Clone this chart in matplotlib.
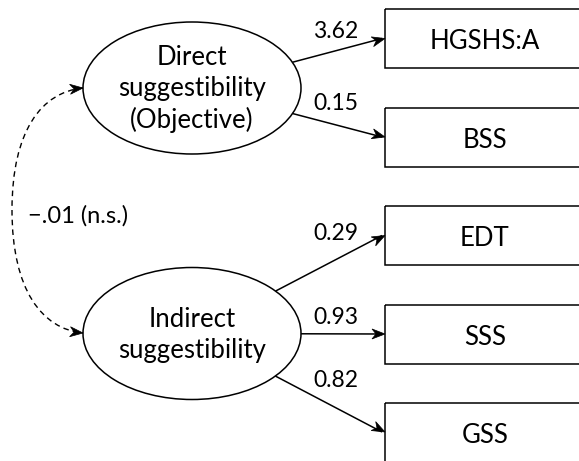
import matplotlib
matplotlib.use("Agg")
import matplotlib.pyplot as plt
import numpy as np
from matplotlib.patches import Ellipse, Rectangle, Polygon, PathPatch
from matplotlib.path import Path

latent_names = ["Direct\nsuggestibility\n(Objective)", "Indirect\nsuggestibility"]
indicators = ["HGSHS:A", "BSS", "EDT", "SSS", "GSS"]
loadings = ["3.62", "0.15", "0.29", "0.93", "0.82"]
loading_factor = [0, 0, 1, 1, 1]
covariance_label = "\u2212.01 (n.s.)"

plt.rcParams["font.family"] = ["Lato", "DejaVu Sans"]

fig = plt.figure(figsize=(5.79, 4.61), dpi=100)
ax = fig.add_axes([0, 0, 1, 1])
ax.set_xlim(0, 579)
ax.set_ylim(461, 0)
ax.axis("off")

# layout (pixel coords)
ell_cx, ell_rx, ell_ry = 192, 109, 66
ell_cy = [88, 333.5]
box_x, box_w, box_h = 385, 220, 59
box_cy = [38.5, 137, 235.5, 334, 432]
label_x = 336
label_y = [32, 103, 233, 317, 380]


def stealth(tip, frm, L=13, w=5, notch=4):
    tip = np.array(tip, float)
    u = tip - np.array(frm, float)
    u /= np.linalg.norm(u)
    n = np.array([-u[1], u[0]])
    pts = [tip, tip - L * u + w * n, tip - (L - notch) * u, tip - L * u - w * n]
    ax.add_patch(Polygon(pts, closed=True, fc="black", ec="black", lw=0.5, zorder=3))


for cy, name in zip(ell_cy, latent_names):
    ax.add_patch(Ellipse((ell_cx, cy), 2 * ell_rx, 2 * ell_ry, fill=False, lw=1.1, ec="black"))
    ax.text(ell_cx, cy + 1, name, ha="center", va="center", fontsize=18.5, linespacing=1.3)

for cy, name in zip(box_cy, indicators):
    ax.add_patch(Rectangle((box_x, cy - box_h / 2), box_w, box_h, fill=False, lw=1.1, ec="black"))
    ax.text(box_x + 100, cy + 3, name, ha="center", va="center", fontsize=18.5)


def ellipse_edge(cx, cy, tx, ty):
    dx, dy = tx - cx, ty - cy
    s = 1 / np.sqrt((dx / ell_rx) ** 2 + (dy / ell_ry) ** 2)
    return cx + dx * s, cy + dy * s


for i, (lab, f) in enumerate(zip(loadings, loading_factor)):
    cy = ell_cy[f]
    sx, sy = ellipse_edge(ell_cx, cy, box_x, box_cy[i])
    ax.plot([sx, box_x - 3], [sy, box_cy[i]], color="black", lw=1.1, solid_capstyle="butt")
    stealth((box_x, box_cy[i]), (sx, sy))
    ax.text(label_x, label_y[i], lab, ha="center", va="center", fontsize=16.5)

# covariance (dashed, curved double-headed)
verts = [(83, 88), (42, 92), (12, 130), (12, 210), (12, 290), (42, 329), (83, 333)]
codes = [Path.MOVETO] + [Path.CURVE4] * 6
ax.add_patch(PathPatch(Path(verts, codes), fill=False, lw=1.0, ls=(0, (4, 3)), ec="black"))
stealth(verts[0], verts[1])
stealth(verts[-1], verts[-2])
ax.text(28, 216, covariance_label, ha="left", va="center", fontsize=17)

fig.savefig("out.png", dpi=100)
